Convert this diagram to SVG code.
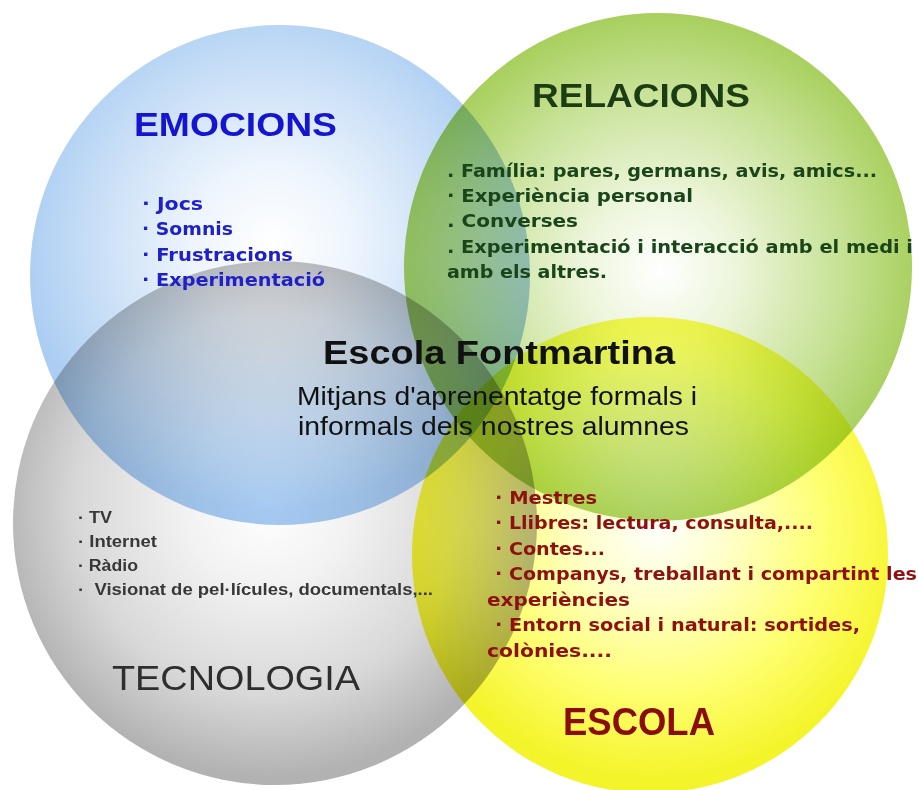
<svg xmlns="http://www.w3.org/2000/svg" width="918" height="790" viewBox="0 0 918 790">
<defs>
<radialGradient id="gBlue" gradientUnits="userSpaceOnUse" cx="272" cy="245" r="265">
<stop offset="0" stop-color="#ffffff"/><stop offset="0.3" stop-color="#eef5fd"/><stop offset="0.7" stop-color="#c6ddf6"/><stop offset="1" stop-color="#a5caf2"/>
</radialGradient>
<radialGradient id="gGreen" gradientUnits="userSpaceOnUse" cx="660" cy="270" r="262">
<stop offset="0" stop-color="#ffffff"/><stop offset="0.3" stop-color="#ecf5da"/><stop offset="0.7" stop-color="#c6e194"/><stop offset="1" stop-color="#a6ce5a"/>
</radialGradient>
<radialGradient id="gGray" gradientUnits="userSpaceOnUse" cx="268" cy="505" r="272">
<stop offset="0" stop-color="#ffffff"/><stop offset="0.3" stop-color="#f2f2f2"/><stop offset="0.7" stop-color="#d8d8d8"/><stop offset="1" stop-color="#b2b2b2"/>
</radialGradient>
<radialGradient id="gYellow" gradientUnits="userSpaceOnUse" cx="655" cy="525" r="255">
<stop offset="0" stop-color="#ffffff"/><stop offset="0.3" stop-color="#ffffc8"/><stop offset="0.65" stop-color="#ffff74"/><stop offset="1" stop-color="#f4f42a"/>
</radialGradient>
</defs>
<style>
.c{mix-blend-mode:multiply}
.h{font-family:"Liberation Sans",Arial,sans-serif}
.l{font-family:"DejaVu Sans",Verdana,sans-serif;font-weight:bold;font-size:18px}
.t{font-family:"Liberation Sans",Arial,sans-serif;font-weight:bold;font-size:16px;fill:#383838}
.m{font-family:"Liberation Sans",Arial,sans-serif;fill:#111}
</style>
<rect width="918" height="790" fill="#ffffff"/>
<g id="circles">
<g id="tecnologia"><circle class="c" cx="275" cy="523" r="262" fill="url(#gGray)"/></g>
<g id="emocions"><circle class="c" cx="280" cy="275" r="250" fill="url(#gBlue)"/></g>
<g id="escola"><circle class="c" cx="650" cy="555" r="238" fill="url(#gYellow)"/></g>
<g id="relacions"><circle class="c" cx="658" cy="267" r="254" fill="url(#gGreen)"/></g>
</g>
<g id="emocions-labels">
<text class="h" x="134" y="136" font-size="33" font-weight="bold" fill="#1515d0" textLength="203" lengthAdjust="spacingAndGlyphs">EMOCIONS</text>
<text class="l" x="142" y="210" fill="#2020c8" textLength="61" lengthAdjust="spacingAndGlyphs">· Jocs</text>
<text class="l" x="142" y="235" fill="#2020c8" textLength="91" lengthAdjust="spacingAndGlyphs">· Somnis</text>
<text class="l" x="142" y="261" fill="#2020c8" textLength="151" lengthAdjust="spacingAndGlyphs">· Frustracions</text>
<text class="l" x="142" y="286" fill="#2020c8" textLength="183" lengthAdjust="spacingAndGlyphs">· Experimentació</text>
</g>
<g id="relacions-labels">
<text class="h" x="532" y="107" font-size="34" font-weight="bold" fill="#1c3c14" textLength="218" lengthAdjust="spacingAndGlyphs">RELACIONS</text>
<text class="l" x="447" y="177" fill="#1a441a" textLength="430" lengthAdjust="spacingAndGlyphs">. Família: pares, germans, avis, amics...</text>
<text class="l" x="447" y="202" fill="#1a441a" textLength="246" lengthAdjust="spacingAndGlyphs">· Experiència personal</text>
<text class="l" x="447" y="227" fill="#1a441a" textLength="131" lengthAdjust="spacingAndGlyphs">. Converses</text>
<text class="l" x="447" y="253" fill="#1a441a" textLength="466" lengthAdjust="spacingAndGlyphs">. Experimentació i interacció amb el medi i</text>
<text class="l" x="447" y="278" fill="#1a441a" textLength="160" lengthAdjust="spacingAndGlyphs">amb els altres.</text>
</g>
<g id="center-labels">
<text class="m" x="323" y="364" font-size="33" font-weight="bold" textLength="352" lengthAdjust="spacingAndGlyphs">Escola Fontmartina</text>
<text class="m" x="297" y="405" font-size="26" textLength="400" lengthAdjust="spacingAndGlyphs">Mitjans d'aprenentatge formals i</text>
<text class="m" x="298" y="435" font-size="26" textLength="391" lengthAdjust="spacingAndGlyphs">informals dels nostres alumnes</text>
</g>
<g id="tecnologia-labels">
<text class="t" x="78" y="523" textLength="34" lengthAdjust="spacingAndGlyphs">· TV</text>
<text class="t" x="78" y="547" textLength="79" lengthAdjust="spacingAndGlyphs">· Internet</text>
<text class="t" x="78" y="571" textLength="60" lengthAdjust="spacingAndGlyphs">· Ràdio</text>
<text class="t" x="78" y="595" textLength="355" lengthAdjust="spacingAndGlyphs" xml:space="preserve">·  Visionat de pel·lícules, documentals,...</text>
<text class="h" x="112" y="690" font-size="35" fill="#2e2e2e" textLength="248" lengthAdjust="spacingAndGlyphs">TECNOLOGIA</text>
</g>
<g id="escola-labels">
<text class="l" x="495" y="504" fill="#8e1010" textLength="102" lengthAdjust="spacingAndGlyphs">· Mestres</text>
<text class="l" x="495" y="529" fill="#8e1010" textLength="318" lengthAdjust="spacingAndGlyphs">· Llibres: lectura, consulta,....</text>
<text class="l" x="495" y="555" fill="#8e1010" textLength="110" lengthAdjust="spacingAndGlyphs">· Contes...</text>
<text class="l" x="495" y="580" fill="#8e1010" textLength="422" lengthAdjust="spacingAndGlyphs">· Companys, treballant i compartint les</text>
<text class="l" x="487" y="606" fill="#8e1010" textLength="143" lengthAdjust="spacingAndGlyphs">experiències</text>
<text class="l" x="495" y="631" fill="#8e1010" textLength="365" lengthAdjust="spacingAndGlyphs">· Entorn social i natural: sortides,</text>
<text class="l" x="487" y="657" fill="#8e1010" textLength="125" lengthAdjust="spacingAndGlyphs">colònies....</text>
<text class="h" x="563" y="735" font-size="38" font-weight="bold" fill="#8b0c0c" textLength="152" lengthAdjust="spacingAndGlyphs">ESCOLA</text>
</g>
</svg>
